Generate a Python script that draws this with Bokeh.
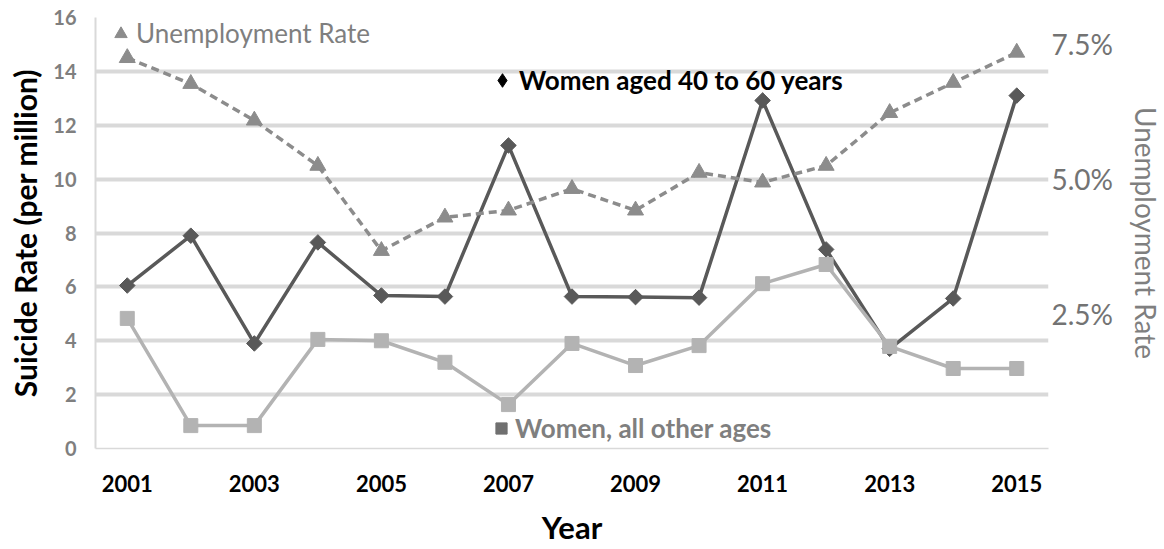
import math
from bokeh.plotting import figure
from bokeh.models import (Range1d, LinearAxis, FixedTicker, Legend, LegendItem,
                          ColumnDataSource)
from bokeh.embed import file_html
from bokeh.resources import INLINE

# ---------------- data ----------------
years = [2001, 2002, 2003, 2004, 2005, 2006, 2007, 2008, 2009, 2010,
         2011, 2012, 2013, 2014, 2015]
women_40_60 = [6.05, 7.90, 3.90, 7.65, 5.68, 5.64, 11.25, 5.64, 5.62, 5.60,
               12.92, 7.39, 3.70, 5.57, 13.10]
women_other = [4.83, 0.85, 0.85, 4.05, 4.00, 3.20, 1.63, 3.90, 3.08, 3.82,
               6.12, 6.83, 3.79, 2.97, 2.97]
unemployment = [7.25, 6.77, 6.09, 5.25, 3.67, 4.29, 4.42, 4.82, 4.42, 5.12,
                4.94, 5.25, 6.23, 6.79, 7.35]

x_ticks = [2001, 2003, 2005, 2007, 2009, 2011, 2013, 2015]
x_tick_labels = ["2001", "2003", "2005", "2007", "2009", "2011", "2013", "2015"]
left_ticks = [0, 2, 4, 6, 8, 10, 12, 14, 16]
right_ticks = [2.5, 5.0, 7.5]
right_tick_labels = ["2.5%", "5.0%", "7.5%"]

series_names = ["Unemployment Rate", "Women aged 40 to 60 years", "Women, all other ages"]

FONT = "Lato"
GRID = "#d9d9d9"

src = ColumnDataSource(dict(x=years, w1=women_40_60, w2=women_other, u=unemployment))

p = figure(frame_width=953, frame_height=431,
           x_range=Range1d(2000.5, 2015.5), y_range=Range1d(0, 16),
           output_backend="svg", toolbar_location=None,
           min_border_left=95, min_border_top=17, min_border_right=60,
           min_border_bottom=60, background_fill_color="white",
           border_fill_color="white")
p.outline_line_color = None
p.extra_y_ranges = {"unemp": Range1d(0, 8)}

# grid
p.xgrid.grid_line_color = None
p.ygrid.ticker = FixedTicker(ticks=left_ticks[1:])
p.ygrid.grid_line_color = GRID
p.ygrid.grid_line_width = 4

# x axis
xa = p.xaxis[0]
xa.ticker = FixedTicker(ticks=x_ticks)
xa.major_label_overrides = dict(zip(x_ticks, x_tick_labels))
xa.axis_label = "Year"
xa.axis_label_text_font = FONT
xa.axis_label_text_font_style = "bold"
xa.axis_label_text_font_size = "31px"
xa.axis_label_text_color = "black"
xa.axis_label_standoff = 13
xa.major_label_text_font = FONT
xa.major_label_text_font_style = "bold"
xa.major_label_text_font_size = "22px"
xa.major_label_text_color = "black"
xa.major_label_standoff = 20
xa.major_tick_line_color = None
xa.minor_tick_line_color = None
xa.axis_line_color = GRID
xa.axis_line_width = 1.5

# left axis
ya = p.yaxis[0]
ya.ticker = FixedTicker(ticks=left_ticks)
ya.axis_label = "Suicide Rate (per million)"
ya.axis_label_text_font = FONT
ya.axis_label_text_font_style = "bold"
ya.axis_label_text_font_size = "30px"
ya.axis_label_text_color = "black"
ya.axis_label_standoff = 7
ya.major_label_text_font = FONT
ya.major_label_text_font_style = "bold"
ya.major_label_text_font_size = "20px"
ya.major_label_text_color = "#7f7f7f"
ya.major_label_standoff = 13
ya.major_tick_line_color = None
ya.minor_tick_line_color = None
ya.axis_line_color = GRID
ya.axis_line_width = 2

# right axis
ra = LinearAxis(y_range_name="unemp", ticker=FixedTicker(ticks=right_ticks),
                major_label_overrides=dict(zip(right_ticks, right_tick_labels)),
                axis_label="Unemployment Rate")
ra.axis_label_text_font = FONT
ra.axis_label_text_font_style = "normal"
ra.axis_label_text_font_size = "28px"
ra.axis_label_text_color = "#7f7f7f"
ra.axis_label_standoff = 13
ra.major_label_text_font = FONT
ra.major_label_text_font_size = "28px"
ra.major_label_text_color = "#737373"
ra.major_label_standoff = -3
ra.major_tick_line_color = None
ra.minor_tick_line_color = None
ra.axis_line_color = None
p.add_layout(ra, "right")

# series
DARK = "#595959"
LIGHT = "#b3b3b3"
UNEMP = "#8c8c8c"

p.line("x", "w1", source=src, line_color=DARK, line_width=3.5)
p.scatter("x", "w1", source=src, marker="square", angle=math.pi / 4, size=11,
          fill_color=DARK, line_color=DARK)
p.line("x", "w2", source=src, line_color=LIGHT, line_width=3.5)
p.scatter("x", "w2", source=src, marker="square", size=14,
          fill_color=LIGHT, line_color=LIGHT)
p.line("x", "u", source=src, y_range_name="unemp", line_color=UNEMP,
       line_width=3.5, line_dash="8 5")
p.scatter("x", "u", source=src, y_range_name="unemp", marker="triangle", size=16,
          fill_color=UNEMP, line_color=UNEMP)

# legend symbols (off-screen NaN renderers used only as legend glyphs)
nan = float("nan")
empty = ColumnDataSource(dict(x=[nan], y=[nan]))
r_leg_u = p.scatter("x", "y", source=empty, marker="triangle", fill_color=UNEMP,
                    line_color=UNEMP)
r_leg_w1 = p.scatter("x", "y", source=empty, marker="diamond",
                     fill_color="black", line_color="black")
r_leg_w2 = p.scatter("x", "y", source=empty, marker="square", fill_color="#707070",
                     line_color="#707070")


def make_legend(name, renderer, loc, glyph, color, style, size):
    lg = Legend(items=[LegendItem(label=name, renderers=[renderer], index=0)],
                location=loc, orientation="vertical",
                glyph_width=glyph, glyph_height=glyph, label_standoff=0,
                padding=0, margin=0, spacing=0,
                border_line_color=None, background_fill_alpha=0,
                label_text_font=FONT, label_text_font_size=size,
                label_text_font_style=style, label_text_color=color)
    p.add_layout(lg)


make_legend(series_names[0], r_leg_u, (10, 399), 31, "#7f7f7f", "normal", "26px")
make_legend(series_names[1], r_leg_w1, (390, 351), 34, "black", "bold", "26px")
make_legend(series_names[2], r_leg_w2, (392, 4), 28, "#7f7f7f", "bold", "26px")

open("out.html", "w").write(file_html(p, INLINE))
